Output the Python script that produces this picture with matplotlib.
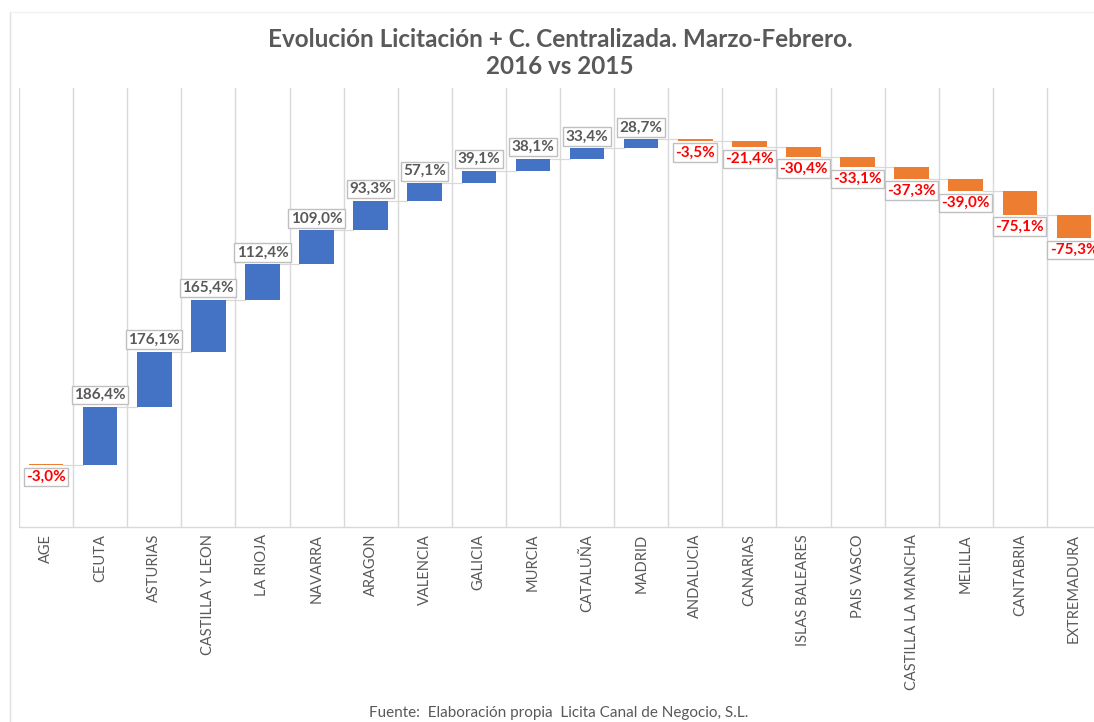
import matplotlib.pyplot as plt
import numpy as np
from matplotlib.lines import Line2D

categories = ["AGE", "CEUTA", "ASTURIAS", "CASTILLA Y LEON", "LA RIOJA", "NAVARRA",
              "ARAGON", "VALENCIA", "GALICIA", "MURCIA", "CATALUÑA", "MADRID",
              "ANDALUCIA", "CANARIAS", "ISLAS BALEARES", "PAIS VASCO",
              "CASTILLA LA MANCHA", "MELILLA", "CANTABRIA", "EXTREMADURA"]
changes = [-3.0, 186.4, 176.1, 165.4, 112.4, 109.0, 93.3, 57.1, 39.1, 38.1,
           33.4, 28.7, -3.5, -21.4, -30.4, -33.1, -37.3, -39.0, -75.1, -75.3]

title = "Evolución Licitación + C. Centralizada. Marzo-Febrero.\n2016 vs 2015"
source = "Fuente:  Elaboración propia  Licita Canal de Negocio, S.L."

BLUE = "#4472C4"
ORANGE = "#ED7D31"
GRID = "#D9D9D9"
TEXT = "#595959"

plt.rcParams["font.family"] = ["Lato", "DejaVu Sans"]

fig = plt.figure(figsize=(10.94, 7.22), dpi=100)
ax = fig.add_axes([19 / 1094, 195 / 722, 1082 / 1094, 439 / 722])

vals = np.array(changes)
ends = np.cumsum(vals)
starts = ends - vals
x = np.arange(len(categories))
width = 0.64
colors = [BLUE if v > 0 else ORANGE for v in vals]

ax.bar(x, vals, bottom=starts, width=width, color=colors, zorder=3)

# connectors between consecutive bars
for i in range(len(x) - 1):
    ax.plot([x[i] + width / 2, x[i + 1] - width / 2], [ends[i], ends[i]],
            color=GRID, lw=0.9, zorder=2)

# value labels
for i, v in enumerate(vals):
    txt = f"{v:.1f}%".replace(".", ",")
    if v > 0:
        ax.annotate(txt, (x[i], ends[i]), xytext=(0, 3.5), textcoords="offset points",
                    ha="center", va="bottom", fontsize=11, fontweight="bold", color=TEXT,
                    bbox=dict(boxstyle="square,pad=0.15", fc="white", ec="#BFBFBF", lw=1),
                    zorder=5)
    else:
        ax.annotate(txt, (x[i], ends[i]), xytext=(0, -3.5), textcoords="offset points",
                    ha="center", va="top", fontsize=11, fontweight="bold", color="#FF0000",
                    bbox=dict(boxstyle="square,pad=0.15", fc="white", ec="#BFBFBF", lw=1),
                    zorder=5)

ax.set_xlim(-0.5, len(x) - 0.5)
ax.set_ylim(-200, 1200)
ax.set_xticks(x)
ax.set_xticklabels(categories, rotation=90, fontsize=10.5, color=TEXT)
ax.tick_params(axis="x", length=0, pad=5)
ax.set_yticks([])
ax.set_xticks(np.arange(len(x) + 1) - 0.5, minor=True)
ax.grid(True, which="minor", axis="x", color=GRID, lw=1, zorder=0)
ax.tick_params(axis="x", which="minor", length=0)
for side in ["top", "right", "left"]:
    ax.spines[side].set_visible(False)
ax.spines["bottom"].set_color(GRID)
ax.spines["bottom"].set_linewidth(1)

# chart area border
fig.add_artist(Line2D([9.5 / 1094, 9.5 / 1094], [0, 1 - 12 / 722], color="#E0E0E0", lw=1))
fig.add_artist(Line2D([9.5 / 1094, 1], [1 - 12 / 722, 1 - 12 / 722], color="#F0F0F0", lw=1))

fig.text(560 / 1094, 1 - 53 / 722, title, ha="center", va="center", fontsize=17.5,
         fontweight="bold", color=TEXT, linespacing=1.25)
fig.text(559 / 1094, 1 - 713 / 722, source, ha="center", va="center", fontsize=11,
         color=TEXT)

fig.savefig("out.png", dpi=100)
